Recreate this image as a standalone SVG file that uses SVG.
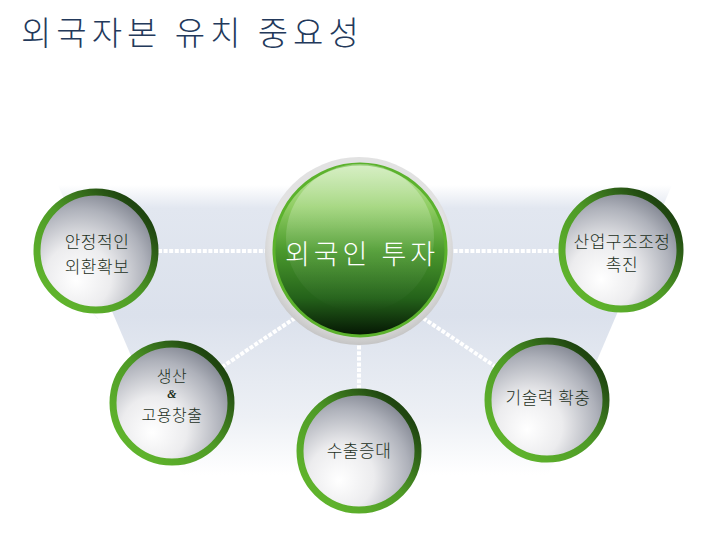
<svg xmlns="http://www.w3.org/2000/svg" width="720" height="540" viewBox="0 0 720 540">
  <defs>
    <linearGradient id="band" x1="0" y1="185" x2="0" y2="475" gradientUnits="userSpaceOnUse">
      <stop offset="0" stop-color="#ffffff"/>
      <stop offset="0.08" stop-color="#e2e7f0"/>
      <stop offset="0.45" stop-color="#dbe1ec"/>
      <stop offset="0.8" stop-color="#edf0f5"/>
      <stop offset="1" stop-color="#ffffff"/>
    </linearGradient>
    <radialGradient id="sphere" cx="0.38" cy="0.68" r="0.8" fx="0.33" fy="0.75">
      <stop offset="0" stop-color="#ffffff"/>
      <stop offset="0.35" stop-color="#ececee"/>
      <stop offset="0.7" stop-color="#aeb1ba"/>
      <stop offset="1" stop-color="#6a6f7c"/>
    </radialGradient>
    <linearGradient id="ring" x1="0.15" y1="0.85" x2="0.85" y2="0.15">
      <stop offset="0" stop-color="#5fb32c"/>
      <stop offset="0.5" stop-color="#4e9a26"/>
      <stop offset="1" stop-color="#1f4510"/>
    </linearGradient>
    <radialGradient id="greyRing" cx="0.5" cy="0.45" r="0.55">
      <stop offset="0.85" stop-color="#e2e2e2"/>
      <stop offset="1" stop-color="#c4c4c4"/>
    </radialGradient>
    <linearGradient id="green" x1="0" y1="0" x2="0" y2="1">
      <stop offset="0" stop-color="#c2e7a6"/>
      <stop offset="0.25" stop-color="#8fcd62"/>
      <stop offset="0.5" stop-color="#4b9a2d"/>
      <stop offset="0.78" stop-color="#24621a"/>
      <stop offset="1" stop-color="#041503"/>
    </linearGradient>
    <linearGradient id="gloss" x1="0" y1="0" x2="0" y2="1">
      <stop offset="0" stop-color="#ffffff" stop-opacity="0.35"/>
      <stop offset="0.6" stop-color="#ffffff" stop-opacity="0.08"/>
      <stop offset="1" stop-color="#ffffff" stop-opacity="0"/>
    </linearGradient>
  </defs>
  <style>
    .title { font-family: "Noto Sans CJK KR", "Liberation Sans", sans-serif; font-size: 33px; font-weight: 300; fill: #23395b; letter-spacing: 5px; }
    .lbl { font-family: "Noto Sans CJK KR", "Liberation Sans", sans-serif; font-size: 17px; font-weight: 300; fill: #1c301c; text-anchor: middle; letter-spacing: 0.5px; }
    .sm { font-size: 16px; }
    .ctr { font-family: "Noto Sans CJK KR", "Liberation Sans", sans-serif; font-size: 27px; font-weight: 300; fill: #ffffff; text-anchor: middle; letter-spacing: 4px; }
    .sph { fill: url(#sphere); stroke: url(#ring); stroke-width: 7; }
    .conn { stroke: #ffffff; stroke-width: 4; stroke-dasharray: 4 1.6; fill: none; }
  </style>

  <rect x="0" y="0" width="720" height="540" fill="#ffffff"/>
  <polygon points="58,185 672,185 548,475 182,475" fill="url(#band)"/>
  <line x1="88" y1="307" x2="98" y2="319" stroke="#f4f6f9" stroke-width="1"/>
  <line x1="103" y1="293" x2="115" y2="303" stroke="#6d7380" stroke-width="0.8"/>

  <g id="connectors">
    <line class="conn" x1="158" y1="251" x2="270" y2="251"/>
    <line class="conn" x1="448" y1="251" x2="560" y2="251"/>
    <line class="conn" x1="295" y1="318" x2="216" y2="371"/>
    <line class="conn" x1="423" y1="318" x2="502" y2="371"/>
    <line class="conn" x1="359" y1="340" x2="359" y2="392"/>
  </g>

  <g id="center">
    <circle cx="359" cy="251" r="94" fill="url(#greyRing)"/>
    <circle cx="360" cy="250" r="86" fill="url(#green)" stroke="#5cb22d" stroke-width="3"/>
    <ellipse cx="360" cy="238" rx="74" ry="74" fill="url(#gloss)"/>
    <text class="ctr" x="362" y="264">외국인 투자</text>
  </g>

  <g id="node-left">
    <circle class="sph" cx="96" cy="251" r="59"/>
    <text class="lbl" x="97" y="248">안정적인</text>
    <text class="lbl" x="97" y="273">외환확보</text>
  </g>

  <g id="node-right">
    <circle class="sph" cx="621" cy="250" r="59"/>
    <text class="lbl" x="622" y="248">산업구조조정</text>
    <text class="lbl" x="622" y="271">촉진</text>
  </g>

  <g id="node-lower-left">
    <circle class="sph" cx="172" cy="403" r="59"/>
    <text class="lbl sm" x="172" y="382">생산</text>
    <text x="172" y="398" text-anchor="middle" font-family="Liberation Serif, serif" font-style="italic" font-weight="bold" font-size="12" fill="#1c301c">&amp;</text>
    <text class="lbl sm" x="172" y="421">고용창출</text>
  </g>

  <g id="node-lower-right">
    <circle class="sph" cx="547" cy="400" r="59"/>
    <text class="lbl" x="548" y="404">기술력 확충</text>
  </g>

  <g id="node-bottom">
    <circle class="sph" cx="359" cy="451" r="59"/>
    <text class="lbl" x="359" y="457">수출증대</text>
  </g>

  <text class="title" x="21" y="45">외국자본 유치 중요성</text>
</svg>
